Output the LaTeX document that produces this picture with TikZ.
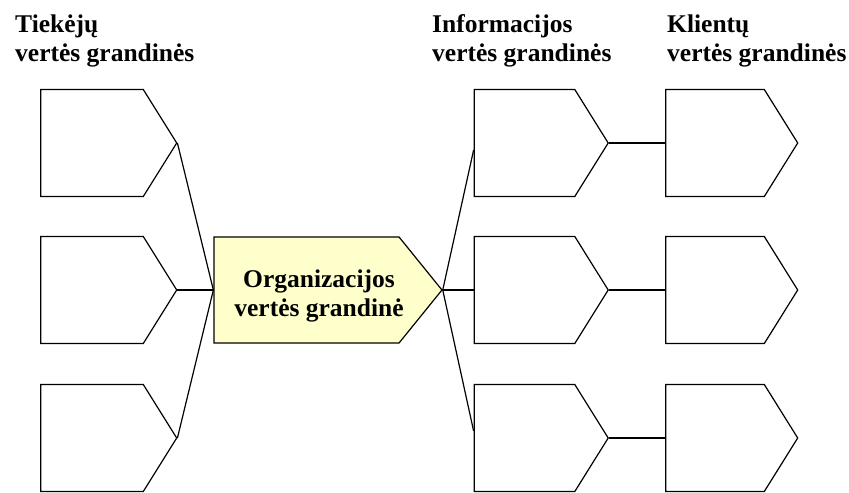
\documentclass[tikz,border=0pt]{standalone}
\usepackage{fontspec}
\setmainfont{Liberation Serif}
\usetikzlibrary{shapes.symbols}
\definecolor{orgfill}{RGB}{255,255,204}
\begin{document}
\begin{tikzpicture}[x=1bp,y=-1bp,
  chainbox/.style={signal, signal to=east, signal pointer angle=116,
    draw=black, line width=1.2bp, fill=white, inner sep=0pt,
    minimum height=107bp},
  leftbox/.style={chainbox, minimum width=136bp},
  infobox/.style={chainbox, minimum width=134bp},
  clientbox/.style={chainbox, minimum width=132bp},
  orgbox/.style={chainbox, signal pointer angle=102, fill=orgfill,
    minimum width=228bp, minimum height=106bp},
  link/.style={draw=black, line width=1.2bp},
  title/.style={font=\fontsize{25.6}{30}\selectfont\bfseries, inner sep=0pt,
    align=left, anchor=base west},
  orgtext/.style={font=\fontsize{25.6}{30}\selectfont\bfseries, inner sep=0pt,
    align=center, anchor=base}]
\useasboundingbox (0,0) rectangle (849,493);
\fill[white] (0,0) rectangle (849,493);

% column titles (anchored at the baseline of the second line)
\node[title] (tsup) at (15,62) {Tiekėjų\\vertės grandinės};
\node[title] (tinf) at (432,62) {Informacijos\\vertės grandinės};
\node[title] (tcli) at (667,62) {Klientų\\vertės grandinės};

% supplier value chains
\node[leftbox] (s1) at (92,143) {};
\node[leftbox] (s2) at (92,290) {};
\node[leftbox] (s3) at (92,438) {};

% organisation value chain
\node[orgbox] (org) at (306.5,290) {};
\node[orgtext] (orgt) at (319,317) {Organizacijos\\vertės grandinė};

% information value chains
\node[infobox] (i1) at (524.5,143) {};
\node[infobox] (i2) at (524.5,290) {};
\node[infobox] (i3) at (524.5,438) {};

% customer value chains
\node[clientbox] (c1) at (715,143) {};
\node[clientbox] (c2) at (715,290) {};
\node[clientbox] (c3) at (715,438) {};

% links
\draw[link] (s1.east) -- (org.west);
\draw[link] (s2.east) -- (org.west);
\draw[link] (s3.east) -- (org.west);
\draw[link] (org.east) -- ([yshift=-7bp]i1.west);
\draw[link] (org.east) -- (i2.west);
\draw[link] (org.east) -- ([yshift=7bp]i3.west);
\draw[link] (i1.east) -- (c1.west);
\draw[link] (i2.east) -- (c2.west);
\draw[link] (i3.east) -- (c3.west);
\end{tikzpicture}
\end{document}
